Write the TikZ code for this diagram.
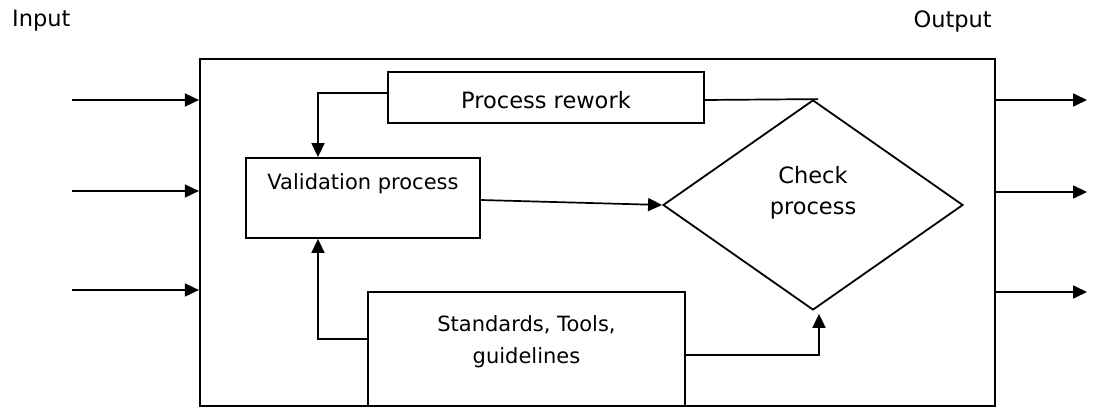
\documentclass[tikz,border=0pt]{standalone}
\usepackage{fontspec}
\setmainfont{DejaVu Sans}
\usetikzlibrary{arrows.meta,shapes.geometric}
\begin{document}
\begin{tikzpicture}[x=1pt,y=-1pt,
  every node/.style={inner sep=0pt},
  box/.style={draw,line width=1.8pt},
  conn/.style={line width=1.7pt},
  arr/.style={conn,-{Triangle[length=14pt,width=13pt]}},
  bigtxt/.style={font=\fontsize{22.5}{31}\selectfont},
  midtxt/.style={font=\fontsize{21}{32}\selectfont},
]
\useasboundingbox (0,0) rectangle (1093,409);

% frame and labels
\node[draw,line width=2.2pt,minimum width=795pt,minimum height=347pt] (outer) at (597.5,232.5) {};
\node[bigtxt,anchor=west] (inlabel) at (12,21) {Input};
\node[bigtxt,anchor=east] (outlabel) at (992,21) {Output};

% blocks
\node[box,minimum width=316pt,minimum height=51pt] (rework) at (546,97.5) {};
\node[bigtxt] (reworktxt) at (546,100) {Process rework};
\node[box,minimum width=234pt,minimum height=80pt] (valid) at (363,198) {};
\node[midtxt] (validtxt) at (363,184) {Validation process};
\node[box,diamond,minimum width=300pt,minimum height=210pt] (check) at (813,205) {};
\node[bigtxt,align=center] (checktxt) at (813,193) {Check\\process};
\node[box,minimum width=317pt,minimum height=114pt] (std) at (526.5,349) {};
\node[midtxt,align=center] (stdtxt) at (526.5,342) {Standards, Tools,\\guidelines};

% connectors inside the frame
\draw[arr] ([yshift=4.5pt]rework.west) -| ([xshift=-45pt]valid.north);
\draw[conn] ([yshift=-2.5pt]rework.east) -- ([xshift=5pt]check.north);
\draw[arr] ([yshift=-2pt]valid.east) -- (check.west);
\draw[arr] ([yshift=10pt]std.west) -| ([xshift=-45pt]valid.south);
\draw[arr] ([yshift=-6pt]std.east) -| ([xshift=6pt,yshift=-3pt]check.south);

% inputs and outputs
\foreach \i/\y in {1/100,2/191,3/290}{
  \coordinate (in\i) at (72,\y);
  \draw[arr] (in\i) -- (in\i -| outer.west);
}
\foreach \i/\y in {1/100,2/192,3/292}{
  \coordinate (out\i) at (1087,\y);
  \draw[arr] (out\i -| outer.east) -- (out\i);
}
\end{tikzpicture}
\end{document}
